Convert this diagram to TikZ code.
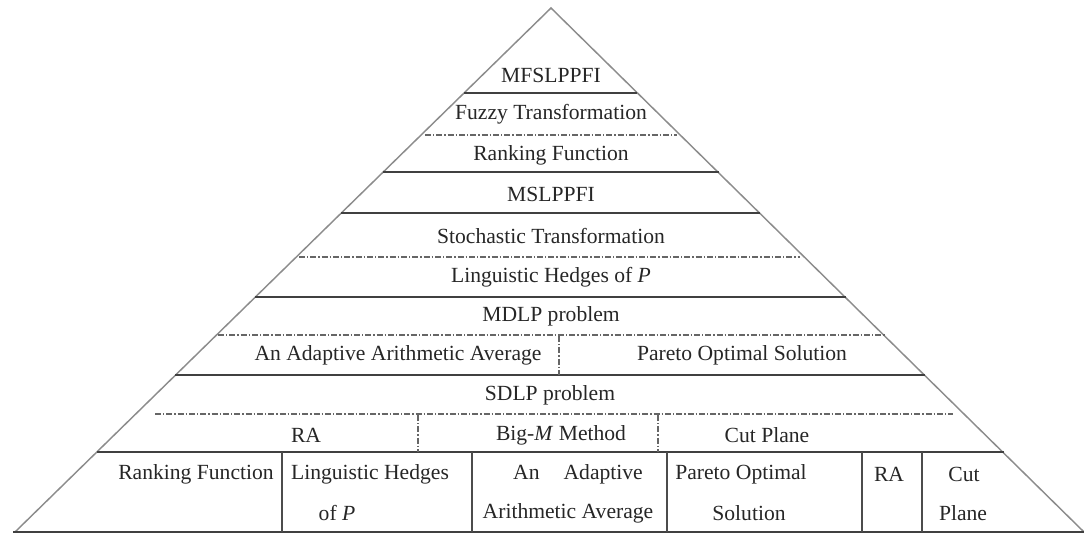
\documentclass[tikz,border=0pt]{standalone}
\usepackage{fontspec}
\setmainfont{Liberation Serif}
\begin{document}
\begin{tikzpicture}[x=0.75pt,y=-0.75pt,
  edge/.style={draw=black!45, line width=1.1pt},
  solidsep/.style={draw=black!75, line width=1.1pt},
  dashsep/.style={draw=black!60, line width=0.8pt, dash pattern=on 4.5pt off 1.5pt on 1pt off 1.5pt},
  cellsep/.style={draw=black!70, line width=0.9pt},
  lbl/.style={inner sep=0pt, text=black!85, font=\fontsize{16.2}{19}\selectfont}]
\useasboundingbox (0,0) rectangle (1084,536);
% pyramid outline
\coordinate (apex) at (551,8);
\coordinate (bl) at (15,532);
\coordinate (br) at (1084,532);
\draw[edge] (bl) -- (apex) -- (br);
\draw[solidsep] (13,532) -- (1084,532);
% solid separators
\draw[solidsep] (464,93) -- (637,93);
\draw[solidsep] (383,172) -- (719,172);
\draw[solidsep] (341,213) -- (760,213);
\draw[solidsep] (255,297) -- (846,297);
\draw[solidsep] (175,375) -- (925,375);
\draw[solidsep] (97,452) -- (1004,452);
% dash-dot separators
\draw[dashsep] (425,135) -- (677,135);
\draw[dashsep] (299,257) -- (800,257);
\draw[dashsep] (218,335) -- (885,335);
\draw[dashsep] (155,414) -- (953,414);
% vertical separators
\draw[dashsep] (559,336) -- (559,375);
\draw[dashsep] (418,415) -- (418,452);
\draw[dashsep] (658,415) -- (658,452);
\foreach \xx in {282,472,667,862,922} \draw[cellsep] (\xx,452) -- (\xx,532);
% labels
\node[lbl] (t1) at (551,75) {MFSLPPFI};
\node[lbl] (t2) at (551,114) {Fuzzy Transformation};
\node[lbl] (t3) at (551,155) {Ranking Function};
\node[lbl] (t4) at (551,194) {MSLPPFI};
\node[lbl] (t5) at (551,236) {Stochastic Transformation};
\node[lbl] (t6) at (551,277) {Linguistic Hedges of \textit{P}};
\node[lbl] (t7) at (551,316) {MDLP problem};
\node[lbl] (t8a) at (398,355) {An Adaptive Arithmetic Average};
\node[lbl] (t8b) at (742,355) {Pareto Optimal Solution};
\node[lbl] (t9) at (550,395) {SDLP problem};
\node[lbl] (t10a) at (306,435) {RA};
\node[lbl] (t10b) at (561,435) {Big-\textit{M} Method};
\node[lbl] (t10c) at (767,435) {Cut Plane};
\node[lbl] (b1) at (196,474) {Ranking Function};
\node[lbl] (b2a) at (370,474) {Linguistic Hedges};
\node[lbl] (b2b) at (337,513) {of \textit{P}};
\node[lbl] (b3a) at (578,474) {An\hspace{18pt}Adaptive};
\node[lbl] (b3b) at (568,513) {Arithmetic Average};
\node[lbl] (b4a) at (741,474) {Pareto Optimal};
\node[lbl] (b4b) at (749,513) {Solution};
\node[lbl] (b5) at (889,474) {RA};
\node[lbl] (b6a) at (964,474) {Cut};
\node[lbl] (b6b) at (963,513) {Plane};
\end{tikzpicture}
\end{document}
